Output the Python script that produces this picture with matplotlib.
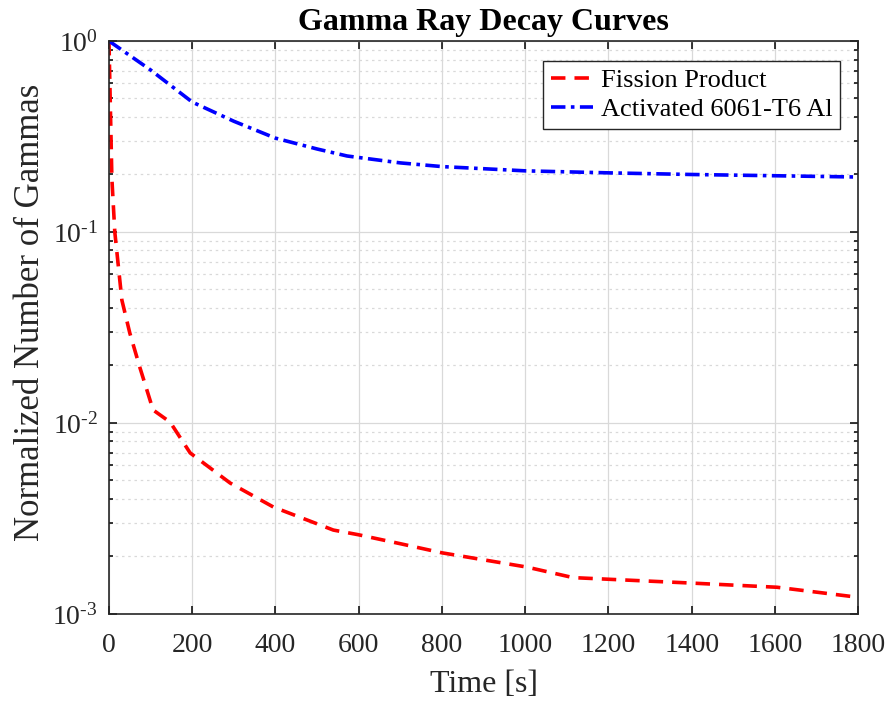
import numpy as np
import matplotlib.pyplot as plt
from matplotlib.ticker import LogLocator, NullFormatter, FixedLocator, FixedFormatter

plt.rcParams['font.family'] = ['Liberation Serif', 'DejaVu Serif']
plt.rcParams['mathtext.fontset'] = 'custom'
plt.rcParams['mathtext.rm'] = 'Liberation Serif'
plt.rcParams['mathtext.it'] = 'Liberation Serif:italic'

# fission product decay (normalized)
t_fp = [0, 7, 14, 31, 50, 74, 106, 147, 195, 291, 395, 539, 599, 701, 800,
        1004, 1115, 1403, 1605, 1790]
n_fp = [1.0, 0.19, 0.1, 0.044, 0.0296, 0.0196, 0.0117, 0.0101, 0.00697,
        0.00485, 0.00363, 0.00275, 0.0026, 0.00233, 0.00209, 0.00176,
        0.00155, 0.00145, 0.00138, 0.00123]

# activated aluminium decay (normalized)
t_al = [0, 100, 200, 300, 400, 500, 572, 700, 800, 1000, 1200, 1400, 1600, 1800]
n_al = [1.0, 0.705, 0.479, 0.38, 0.31, 0.272, 0.25, 0.23, 0.22, 0.209, 0.204,
        0.2, 0.197, 0.194]

x_ticks = list(range(0, 1801, 200))
y_ticks = [1e-3, 1e-2, 1e-1, 1e0]
y_labels = [r'$10^{\text{-}3}$', r'$10^{\text{-}2}$', r'$10^{\text{-}1}$', r'$10^{0}$']

fig = plt.figure(figsize=(8.91, 7.02), dpi=100)
ax = fig.add_axes([0.1223, 0.1254, 0.8409, 0.8162])

ax.semilogy(t_fp, n_fp, color='red', ls=(0, (4, 2.5)), lw=2.6, label='Fission Product')
ax.semilogy(t_al, n_al, color='blue', ls=(0, (4, 1.5, 1, 1.5)), lw=2.6,
            label='Activated 6061-T6 Al')

ax.set_xlim(0, 1800)
ax.set_ylim(1e-3, 1)
ax.set_xticks(x_ticks)
ax.yaxis.set_major_locator(FixedLocator(y_ticks))
ax.yaxis.set_major_formatter(FixedFormatter(y_labels))
ax.yaxis.set_minor_locator(LogLocator(base=10, subs=np.arange(2, 10)))
ax.yaxis.set_minor_formatter(NullFormatter())

ax.grid(True, which='major', color='#d9d9d9', lw=0.9)
ax.grid(True, which='minor', axis='y', color='#d9d9d9', ls=(0, (2, 3)), lw=0.9)
ax.tick_params(which='both', direction='in', top=True, right=True,
               labelsize=20, width=1.1, labelcolor='#262626')
ax.tick_params(which='major', length=6)
ax.tick_params(which='minor', length=3)
ax.tick_params(axis='x', which='minor', top=False, bottom=False)
ax.tick_params(axis='x', pad=14)
ax.tick_params(axis='y', pad=8)
for s in ax.spines.values():
    s.set_linewidth(1.2)
    s.set_color('#262626')

ax.set_xlabel('Time [s]', fontsize=23, color='#262626', labelpad=8)
ax.set_ylabel('Normalized Number of Gammas', fontsize=25, color='#262626')
ax.yaxis.set_label_coords(-0.083, 0.527)
ax.set_title('Gamma Ray Decay Curves', fontsize=23, fontweight='bold', pad=8)

leg = ax.legend(loc='upper right', bbox_to_anchor=(0.976, 0.965),
                borderaxespad=0, fontsize=19, fancybox=False, framealpha=1,
                edgecolor='#262626', handlelength=1.6, borderpad=0.3,
                labelspacing=0.2, handletextpad=0.3)
leg.get_frame().set_linewidth(1.0)

fig.savefig('out.png', dpi=100)
